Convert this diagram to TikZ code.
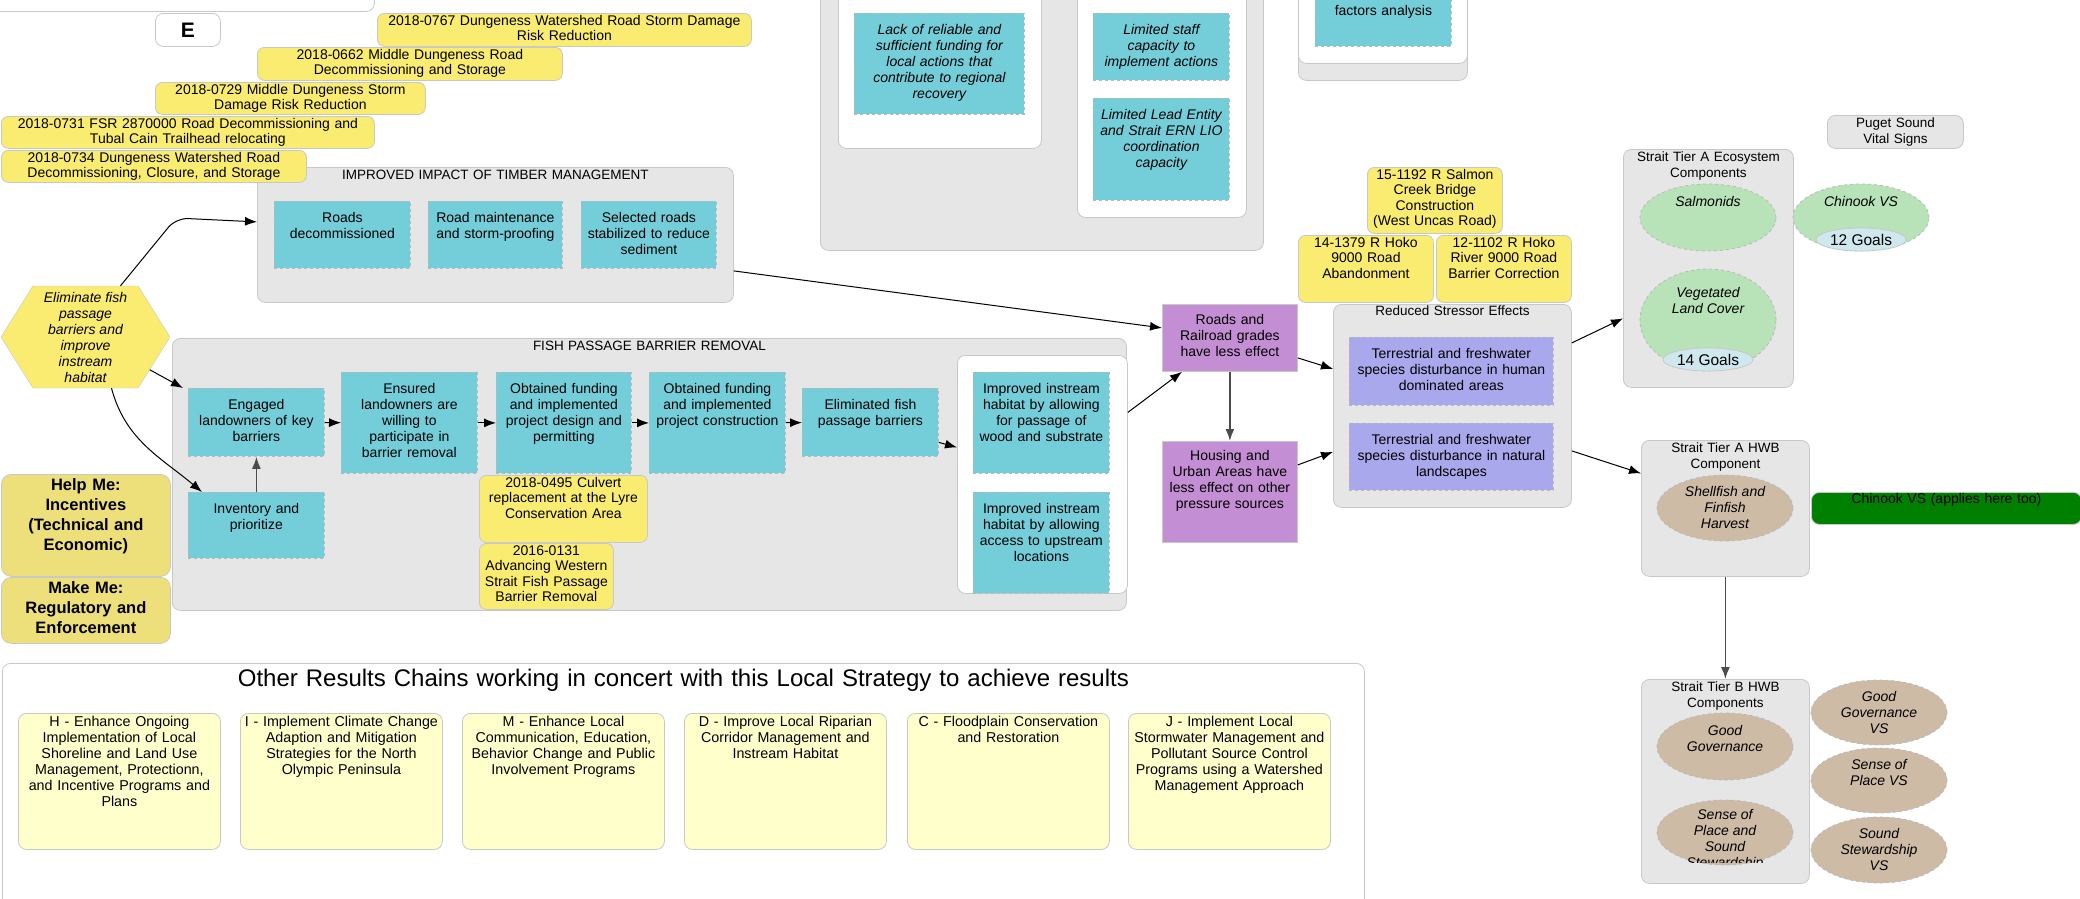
\documentclass[tikz,border=0pt]{standalone}
\usepackage{fontspec}
\setmainfont{Liberation Sans}
\usetikzlibrary{shapes,arrows.meta}

\definecolor{grpgrey}{RGB}{230,230,230}
\definecolor{lingrey}{RGB}{200,200,200}
\definecolor{dashgrey}{RGB}{185,185,185}
\definecolor{actcyan}{RGB}{115,206,217}
\definecolor{prjyellow}{RGB}{250,236,112}
\definecolor{hlpyellow}{RGB}{237,224,122}
\definecolor{othyellow}{RGB}{255,255,204}
\definecolor{facpurple}{RGB}{196,142,212}
\definecolor{strlav}{RGB}{170,168,236}
\definecolor{ecogreen}{RGB}{184,226,184}
\definecolor{goalblue}{RGB}{207,232,238}
\definecolor{hwbtan}{RGB}{205,187,166}
\definecolor{vsgreen}{RGB}{0,128,0}

\newcommand{\titlefont}{\fontsize{13.5pt}{16pt}\selectfont}
\newcommand{\bigtitlefont}{\fontsize{24pt}{27pt}\selectfont}
\newcommand{\prjfont}{\fontsize{14pt}{15.5pt}\selectfont}
\newcommand{\othfont}{\fontsize{14.3pt}{16pt}\selectfont}
\newcommand{\hlpfont}{\fontsize{16.5pt}{20pt}\selectfont\bfseries}

\tikzstyle{grp} = [draw=lingrey, line width=0.8pt, fill=grpgrey, rounded corners=8pt, anchor=north west, inner sep=0pt, align=center, text height=12pt, font=\titlefont]
\tikzstyle{wbox} = [draw=lingrey, line width=0.8pt, fill=white, rounded corners=8pt, anchor=north west, inner sep=0pt]
\tikzstyle{act} = [draw=dashgrey, line width=0.8pt, dashed, fill=actcyan, anchor=north west, inner sep=0pt, align=center, text height=21pt]
\tikzstyle{str} = [act, fill=strlav]
\tikzstyle{fac} = [draw=lingrey, line width=0.8pt, fill=facpurple, anchor=north west, inner sep=0pt, align=center, text height=20pt]
\tikzstyle{prj} = [draw=lingrey, line width=0.8pt, fill=prjyellow, rounded corners=7pt, anchor=north west, inner sep=0pt, align=center, text height=12pt, font=\prjfont]
\tikzstyle{hlp} = [prj, fill=hlpyellow, rounded corners=10pt, text height=16pt, font=\hlpfont]
\tikzstyle{oth} = [prj, fill=othyellow, rounded corners=8pt, text height=13pt, font=\othfont]
\tikzstyle{ell} = [ellipse, draw=dashgrey, line width=0.8pt, dashed, inner sep=0pt, minimum width=136pt]
\tikzstyle{lbl} = [align=center, font=\itshape, inner sep=0pt]
\tikzstyle{arr} = [->, line width=1pt]
\tikzstyle{varr} = [->, line width=1.6pt, black!70]

\begin{document}
\begin{tikzpicture}[x=1pt, y=-1pt, >={Latex[length=12pt,width=9pt]}]
\fontsize{14pt}{16pt}\selectfont
\useasboundingbox (0,0) rectangle (2080,898);
\clip (0,0) rectangle (2080,898);

% top left
\node[wbox, minimum width=384pt, minimum height=41pt] (topbox) at (-10,-30) {};
\node[wbox, minimum width=65pt, minimum height=33pt, font=\fontsize{21pt}{24pt}\selectfont\bfseries] (ebox) at (155,13) {E};

% timber management
\node[grp, text width=476pt, text depth=123pt] (timber) at (257,167) {IMPROVED IMPACT OF TIMBER MANAGEMENT};
\node[act, text width=136pt, text depth=46pt] (rdecom) at (274,201) {Roads\\decommissioned};
\node[act, text width=134pt, text depth=46pt] (rmaint) at (428,201) {Road maintenance\\and storm-proofing};
\node[act, text width=135pt, text depth=46pt] (rselect) at (581,201) {Selected roads\\stabilized to reduce\\sediment};

\node[prj, text width=374pt, text depth=21pt] (p0767) at (377,13) {2018-0767 Dungeness Watershed Road Storm Damage\\Risk Reduction};
\node[prj, text width=305pt, text depth=21pt] (p0662) at (257,47) {2018-0662 Middle Dungeness Road\\Decommissioning and Storage};
\node[prj, text width=270pt, text depth=20pt] (p0729) at (155,82) {2018-0729 Middle Dungeness Storm\\Damage Risk Reduction};
\node[prj, text width=373pt, text depth=20pt] (p0731) at (1,116) {2018-0731 FSR 2870000 Road Decommissioning and\\Tubal Cain Trailhead relocating};
\node[prj, text width=305pt, text depth=20pt] (p0734) at (1,150) {2018-0734 Dungeness Watershed Road\\Decommissioning, Closure, and Storage};

% barriers to action
\node[grp, text width=443pt, text depth=268pt] (barriers) at (820,-30) {};
\node[wbox, minimum width=203pt, minimum height=178pt] (barL) at (838,-30) {};
\node[act, text width=170pt, text depth=80pt, font=\itshape] (lack) at (854,13) {Lack of reliable and\\sufficient funding for\\local actions that\\contribute to regional\\recovery};
\node[wbox, minimum width=169pt, minimum height=247pt] (barR) at (1077,-30) {};
\node[act, text width=136pt, text depth=46pt, font=\itshape] (staff) at (1093,13) {Limited staff\\capacity to\\implement actions};
\node[act, text width=136pt, text depth=81pt, font=\itshape] (lead) at (1093,98) {Limited Lead Entity\\and Strait ERN LIO\\coordination\\capacity};
\node[grp, text width=169pt, text depth=98pt] (factors) at (1298,-30) {};
\node[wbox, minimum width=169pt, minimum height=93pt] (facW) at (1298,-30) {};
\node[act, text width=136pt, text height=45pt, text depth=31pt] (facC) at (1315,-30) {factors analysis};

% strategy
\node[signal, signal to=east and west, signal pointer angle=116, draw=lingrey, fill=prjyellow, minimum width=169pt, minimum height=102pt, inner sep=0pt, align=center, font=\itshape] (hex) at (85.5,337) {Eliminate fish\\passage\\barriers and\\improve\\instream\\habitat};

% fish passage
\node[grp, text width=954pt, text depth=260pt] (fish) at (172,338) {FISH PASSAGE BARRIER REMOVAL};
\node[act, text width=136pt, text depth=47pt] (engaged) at (188,388) {Engaged\\landowners of key\\barriers};
\node[act, text width=136pt, text depth=45pt] (inventory) at (188,492) {Inventory and\\prioritize};
\node[act, text width=136pt, text depth=80pt] (ensured) at (341,372) {Ensured\\landowners are\\willing to\\participate in\\barrier removal};
\node[act, text width=135pt, text depth=80pt] (design) at (496,372) {Obtained funding\\and implemented\\project design and\\permitting};
\node[act, text width=136pt, text depth=80pt] (constr) at (649,372) {Obtained funding\\and implemented\\project construction};
\node[act, text width=136pt, text depth=47pt] (elim) at (802,388) {Eliminated fish\\passage barriers};
\node[wbox, minimum width=170pt, minimum height=238pt] (impbox) at (957,355) {};
\node[act, text width=136pt, text depth=80pt] (impwood) at (973,372) {Improved instream\\habitat by allowing\\for passage of\\wood and substrate};
\node[act, text width=136pt, text depth=80pt] (impaccess) at (973,492) {Improved instream\\habitat by allowing\\access to upstream\\locations};
\node[prj, text width=168pt, text depth=55pt] (p0495) at (479,475) {2018-0495 Culvert\\replacement at the Lyre\\Conservation Area};
\node[prj, text width=134pt, text depth=54pt] (p0131) at (479,543) {2016-0131\\Advancing Western\\Strait Fish Passage\\Barrier Removal};

\node[hlp, text width=169pt, text depth=86pt] (helpme) at (1,474) {Help Me:\\Incentives\\(Technical and\\Economic)};
\node[hlp, text width=169pt, text depth=50pt] (makeme) at (1,577) {Make Me:\\Regulatory and\\Enforcement};

% other results chains
\node[grp, fill=white, text width=1362pt, text height=23pt, text depth=237pt, font=\bigtitlefont] (others) at (2,663) {Other Results Chains working in concert with this Local Strategy to achieve results};
\node[oth, text width=202pt, text depth=123pt] (chainH) at (18,713) {H - Enhance Ongoing\\Implementation of Local\\Shoreline and Land Use\\Management, Protectionn,\\and Incentive Programs and\\Plans};
\node[oth, text width=202pt, text depth=123pt] (chainI) at (240,713) {I - Implement Climate Change\\Adaption and Mitigation\\Strategies for the North\\Olympic Peninsula};
\node[oth, text width=202pt, text depth=123pt] (chainM) at (462,713) {M - Enhance Local\\Communication, Education,\\Behavior Change and Public\\Involvement Programs};
\node[oth, text width=202pt, text depth=123pt] (chainD) at (684,713) {D - Improve Local Riparian\\Corridor Management and\\Instream Habitat};
\node[oth, text width=202pt, text depth=123pt] (chainC) at (907,713) {C - Floodplain Conservation\\and Restoration};
\node[oth, text width=202pt, text depth=123pt] (chainJ) at (1128,713) {J - Implement Local\\Stormwater Management and\\Pollutant Source Control\\Programs using a Watershed\\Management Approach};

% stressors
\node[fac, text width=135pt, text depth=47pt] (roads) at (1162,304) {Roads and\\Railroad grades\\have less effect};
\node[fac, text width=135pt, text height=19pt, text depth=82pt] (housing) at (1162,441) {Housing and\\Urban Areas have\\less effect on other\\pressure sources};
\node[prj, text width=135pt, text depth=54pt] (p1192) at (1367,167) {15-1192 R Salmon\\Creek Bridge\\Construction\\(West Uncas Road)};
\node[prj, text width=135pt, text depth=55pt] (p1379) at (1298,235) {14-1379 R Hoko\\9000 Road\\Abandonment};
\node[prj, text width=135pt, text depth=55pt] (p1102) at (1436,235) {12-1102 R Hoko\\River 9000 Road\\Barrier Correction};
\node[grp, text width=238pt, text height=11pt, text depth=192pt] (stressor) at (1333,304) {Reduced Stressor Effects};
\node[str, text width=204pt, text depth=47pt] (thuman) at (1349,337) {Terrestrial and freshwater\\species disturbance in human\\dominated areas};
\node[str, text width=204pt, text depth=46pt] (tnatural) at (1349,423) {Terrestrial and freshwater\\species disturbance in natural\\landscapes};

% tier A ecosystem
\node[grp, text width=136pt, text depth=21pt] (puget) at (1827,115) {Puget Sound\\Vital Signs};
\node[grp, text width=170pt, text depth=226pt] (tierAeco) at (1623,149) {Strait Tier A Ecosystem\\Components};
\node[ell, fill=ecogreen, minimum height=67pt] (salmon) at (1708,217.5) {};
\node[lbl] (salmontx) at (1708,201) {Salmonids};
\node[ell, fill=ecogreen, minimum height=102pt] (veg) at (1708,320) {};
\node[lbl] (vegtx) at (1708,300) {Vegetated\\Land Cover};
\node[ell, solid, draw=lingrey, fill=goalblue, minimum width=90pt, minimum height=23pt, font=\fontsize{15.5pt}{17pt}\selectfont] (goals14) at (1708,359.5) {14 Goals};
\node[ell, fill=ecogreen, minimum height=67pt] (chinook) at (1861,217.5) {};
\node[lbl] (chinooktx) at (1861,201) {Chinook VS};
\node[ell, solid, draw=lingrey, fill=goalblue, minimum width=90pt, minimum height=23pt, font=\fontsize{15.5pt}{17pt}\selectfont] (goals12) at (1861,239.5) {12 Goals};

% tier A and B human wellbeing
\node[grp, text width=168pt, text depth=124pt] (tierAhwb) at (1641,440) {Strait Tier A HWB\\Component};
\node[ell, fill=hwbtan, minimum height=66pt] (shell) at (1725,508) {};
\node[lbl] (shelltx) at (1725,507) {Shellfish and\\Finfish\\Harvest};
\node[grp, fill=vsgreen, text width=270pt, text height=11.5pt, text depth=20.5pt, font=\fontsize{14pt}{16pt}\selectfont] (chinookbar) at (1811,492) {Chinook VS (applies here too)};

\node[grp, text width=168pt, text depth=192pt] (tierBhwb) at (1641,679) {Strait Tier B HWB\\Components};
\node[ell, fill=hwbtan, minimum height=67pt] (gov) at (1725,746.5) {};
\node[lbl] (govtx) at (1725,738) {Good\\Governance};
\node[ell, fill=hwbtan, minimum height=65pt] (sense) at (1725,832.5) {};
\begin{scope}
\clip (1650,790) rectangle (1800,862);
\node[lbl] (sensetx) at (1725,840) {Sense of\\Place and\\Sound\\Stewardship};
\end{scope}
\node[ell, fill=hwbtan, minimum height=65pt] (govvs) at (1879,712.5) {};
\node[lbl] (govvstx) at (1879,712) {Good\\Governance\\VS};
\node[ell, fill=hwbtan, minimum height=65pt] (placevs) at (1879,780.5) {};
\node[lbl] (placevstx) at (1879,772) {Sense of\\Place VS};
\node[ell, fill=hwbtan, minimum height=66pt] (stewvs) at (1879,850) {};
\node[lbl] (stewvstx) at (1879,849) {Sound\\Stewardship\\VS};

% links
\coordinate (kink) at (176,218);
\draw[arr, rounded corners=12pt] ([xshift=35pt]hex.north) -- (kink) -- ([yshift=13pt]timber.west);
\draw[arr] (hex.-27) -- ([xshift=-5pt]engaged.north west);
\draw[arr] ([xshift=26pt]hex.south) to[out=-75, in=140] ([xshift=14pt]inventory.north west);
\draw[varr] (inventory) -- (engaged);
\draw[arr] (engaged) -- (ensured);
\draw[arr] (ensured) -- (design);
\draw[arr] (design) -- (constr);
\draw[arr] (constr) -- (elim);
\draw[arr] ([yshift=-20pt]elim.east) -- ([yshift=27pt]impbox.west);
\draw[arr] ([yshift=62pt]impbox.east) -- ([xshift=20pt]roads.south west);
\draw[arr] ([yshift=-36pt]timber.east) -- ([yshift=10pt]roads.west);
\draw[varr] (roads) -- (housing);
\draw[arr] ([yshift=-20pt]roads.east) -- ([yshift=37pt]stressor.west);
\draw[arr] ([yshift=27pt]housing.east) -- ([yshift=-46pt]stressor.west);
\draw[arr] ([yshift=63pt]stressor.east) -- ([yshift=-50pt]tierAeco.west);
\draw[arr] ([yshift=-45pt]stressor.east) -- ([yshift=35pt]tierAhwb.west);
\draw[varr] (tierAhwb) -- (tierBhwb);
\end{tikzpicture}
\end{document}
